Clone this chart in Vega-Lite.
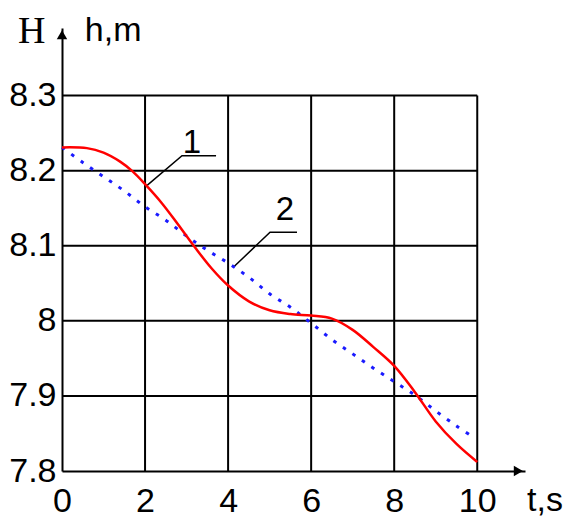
{
  "$schema": "https://vega.github.io/schema/vega-lite/v6.json",
  "autosize": "none",
  "width": 463,
  "height": 443,
  "padding": {"left": 62, "top": 28, "right": 56, "bottom": 47},
  "background": "white",
  "config": {"view": {"stroke": null}},
  "datasets": {
    "curves": [
      {"series": "1", "t": 0, "h": 8.231},
      {"series": "1", "t": 0.6, "h": 8.23},
      {"series": "1", "t": 1.0, "h": 8.224},
      {"series": "1", "t": 1.4, "h": 8.212},
      {"series": "1", "t": 1.7, "h": 8.199},
      {"series": "1", "t": 2.0, "h": 8.182},
      {"series": "1", "t": 2.4, "h": 8.157},
      {"series": "1", "t": 2.8, "h": 8.128},
      {"series": "1", "t": 3.2, "h": 8.098},
      {"series": "1", "t": 3.6, "h": 8.07},
      {"series": "1", "t": 4.0, "h": 8.047},
      {"series": "1", "t": 4.5, "h": 8.026},
      {"series": "1", "t": 5.0, "h": 8.014},
      {"series": "1", "t": 5.5, "h": 8.009},
      {"series": "1", "t": 6.0, "h": 8.007},
      {"series": "1", "t": 6.5, "h": 8.003},
      {"series": "1", "t": 7.0, "h": 7.988},
      {"series": "1", "t": 7.5, "h": 7.965},
      {"series": "1", "t": 8.0, "h": 7.94},
      {"series": "1", "t": 8.5, "h": 7.905},
      {"series": "1", "t": 9.0, "h": 7.866},
      {"series": "1", "t": 9.5, "h": 7.836},
      {"series": "1", "t": 10.0, "h": 7.812},
      {"series": "2", "t": 0, "h": 8.231},
      {"series": "2", "t": 0.5, "h": 8.211},
      {"series": "2", "t": 1.0, "h": 8.192},
      {"series": "2", "t": 1.5, "h": 8.173},
      {"series": "2", "t": 2.0, "h": 8.152},
      {"series": "2", "t": 2.5, "h": 8.134},
      {"series": "2", "t": 3.0, "h": 8.113},
      {"series": "2", "t": 3.5, "h": 8.094},
      {"series": "2", "t": 4.0, "h": 8.077},
      {"series": "2", "t": 4.5, "h": 8.058},
      {"series": "2", "t": 5.0, "h": 8.036},
      {"series": "2", "t": 5.5, "h": 8.018},
      {"series": "2", "t": 6.0, "h": 7.997},
      {"series": "2", "t": 6.5, "h": 7.975},
      {"series": "2", "t": 7.0, "h": 7.956},
      {"series": "2", "t": 7.5, "h": 7.937},
      {"series": "2", "t": 8.0, "h": 7.919},
      {"series": "2", "t": 8.5, "h": 7.901},
      {"series": "2", "t": 9.0, "h": 7.88},
      {"series": "2", "t": 9.5, "h": 7.86},
      {"series": "2", "t": 9.85, "h": 7.847}
    ],
    "vgrid": [{"t": 2}, {"t": 4}, {"t": 6}, {"t": 8}, {"t": 10}],
    "hgrid": [{"h": 7.9}, {"h": 8.0}, {"h": 8.1}, {"h": 8.2}, {"h": 8.3}],
    "leaders": [
      {"id": "1", "t": 2.0, "h": 8.178},
      {"id": "1", "t": 2.89, "h": 8.22},
      {"id": "1", "t": 3.71, "h": 8.22},
      {"id": "2", "t": 4.12, "h": 8.071},
      {"id": "2", "t": 5.01, "h": 8.118},
      {"id": "2", "t": 5.66, "h": 8.118}
    ],
    "labels": [
      {"label": "1", "t": 3.13, "h": 8.224, "kind": "num"},
      {"label": "2", "t": 5.37, "h": 8.134, "kind": "num"},
      {"label": "h,m", "t": 0.55, "h": 8.373, "kind": "unit"},
      {"label": "t,s", "t": 11.2, "h": 7.7468, "kind": "unit"},
      {"label": "H", "t": -1.06, "h": 8.37, "kind": "serif"}
    ],
    "arrows": [
      {"dir": "up", "t": 0, "h": 8.381},
      {"dir": "right", "t": 10.99, "h": 7.8}
    ]
  },
  "layer": [
    {
      "data": {"name": "vgrid"},
      "mark": {"type": "rule", "color": "#000", "strokeWidth": 2},
      "encoding": {
        "x": {"field": "t", "type": "quantitative", "scale": {"domain": [0, 11.15], "nice": false, "zero": false},
          "axis": {
            "values": [0, 2, 4, 6, 8, 10], "format": "d", "title": null,
            "grid": false, "ticks": false, "domainColor": "#000", "domainWidth": 2,
            "labelFont": "Liberation Sans", "labelFontSize": 34, "labelColor": "#000",
            "labelPadding": 13, "labelDx": 6, "labelFlush": false, "labelOverlap": false
          }},
        "y": {"datum": 7.8, "type": "quantitative", "scale": {"domain": [7.8, 8.39], "nice": false, "zero": false},
          "axis": {
            "values": [7.8, 7.9, 8.0, 8.1, 8.2, 8.3], "format": "~g", "title": null,
            "grid": false, "ticks": false, "domainColor": "#000", "domainWidth": 2,
            "labelFont": "Liberation Sans", "labelFontSize": 34, "labelColor": "#000",
            "labelPadding": 6, "labelDy": 3, "labelFlush": false, "labelOverlap": false
          }},
        "y2": {"datum": 8.3}
      }
    },
    {
      "data": {"name": "hgrid"},
      "mark": {"type": "rule", "color": "#000", "strokeWidth": 2},
      "encoding": {
        "y": {"field": "h", "type": "quantitative"},
        "x": {"datum": 0, "type": "quantitative"},
        "x2": {"datum": 10}
      }
    },
    {
      "data": {"name": "leaders"},
      "mark": {"type": "line", "color": "#000", "strokeWidth": 1.5},
      "encoding": {
        "x": {"field": "t", "type": "quantitative"},
        "y": {"field": "h", "type": "quantitative"},
        "detail": {"field": "id"}
      }
    },
    {
      "data": {"name": "curves"},
      "transform": [{"filter": "datum.series == '2'"}],
      "mark": {"type": "line", "color": "#1a1aff", "strokeWidth": 3, "strokeDash": [3.5, 8], "interpolate": "catmull-rom"},
      "encoding": {
        "x": {"field": "t", "type": "quantitative"},
        "y": {"field": "h", "type": "quantitative"}
      }
    },
    {
      "data": {"name": "curves"},
      "transform": [{"filter": "datum.series == '1'"}],
      "mark": {"type": "line", "color": "#ff0000", "strokeWidth": 2.5, "interpolate": "catmull-rom"},
      "encoding": {
        "x": {"field": "t", "type": "quantitative"},
        "y": {"field": "h", "type": "quantitative"}
      }
    },
    {
      "data": {"name": "arrows"},
      "mark": {"type": "point", "filled": true, "color": "#000", "opacity": 1, "size": 110},
      "encoding": {
        "x": {"field": "t", "type": "quantitative"},
        "y": {"field": "h", "type": "quantitative"},
        "shape": {"field": "dir", "type": "nominal", "scale": {"domain": ["up", "right"], "range": ["triangle-up", "triangle-right"]}, "legend": null}
      }
    },
    {
      "data": {"name": "labels"},
      "transform": [{"filter": "datum.kind == 'num'"}],
      "mark": {"type": "text", "font": "Liberation Sans", "fontSize": 33, "color": "#000", "align": "center", "baseline": "alphabetic"},
      "encoding": {
        "x": {"field": "t", "type": "quantitative"},
        "y": {"field": "h", "type": "quantitative"},
        "text": {"field": "label"}
      }
    },
    {
      "data": {"name": "labels"},
      "transform": [{"filter": "datum.kind == 'unit'"}],
      "mark": {"type": "text", "font": "Liberation Sans", "fontSize": 34, "color": "#000", "align": "left", "baseline": "alphabetic"},
      "encoding": {
        "x": {"field": "t", "type": "quantitative"},
        "y": {"field": "h", "type": "quantitative"},
        "text": {"field": "label"}
      }
    },
    {
      "data": {"name": "labels"},
      "transform": [{"filter": "datum.kind == 'serif'"}],
      "mark": {"type": "text", "font": "Liberation Serif", "fontSize": 38, "color": "#000", "align": "left", "baseline": "alphabetic"},
      "encoding": {
        "x": {"field": "t", "type": "quantitative"},
        "y": {"field": "h", "type": "quantitative"},
        "text": {"field": "label"}
      }
    }
  ]
}
